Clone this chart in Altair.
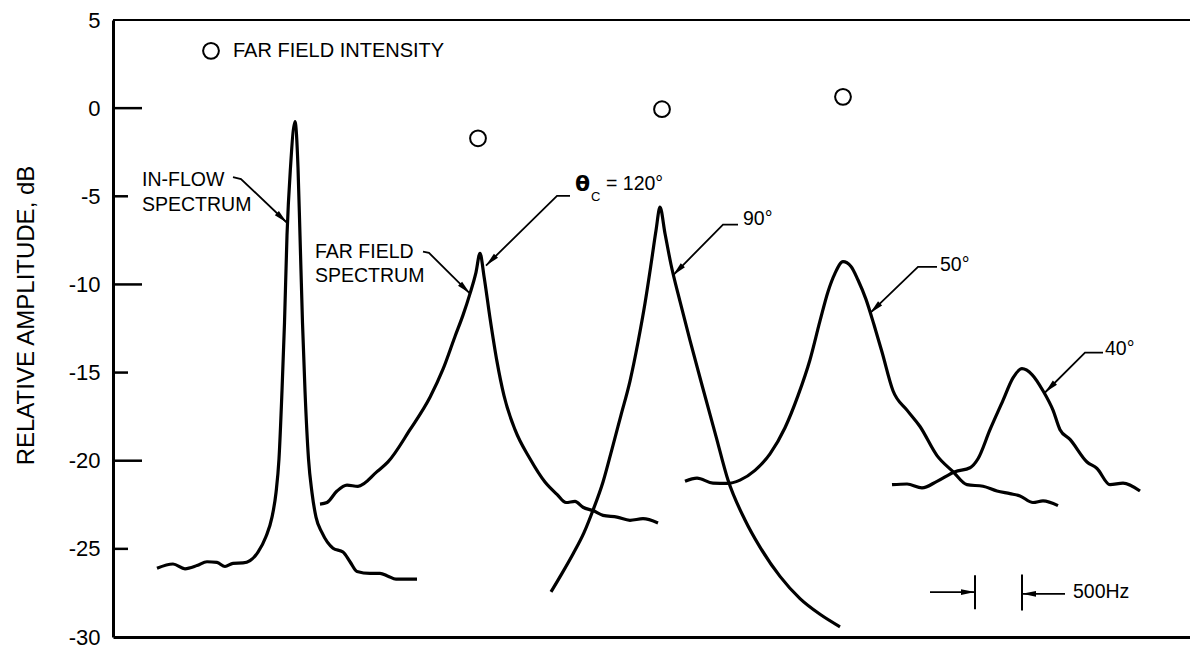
import math
import altair as alt
import pandas as pd

# ---------------- data ----------------
# x : relative frequency (arbitrary units, 500 Hz ~ 47 units), y : relative amplitude in dB
INFLOW_X = [157, 173, 185, 197, 207, 217, 225, 233, 243, 250, 258, 266, 272, 276, 279, 282,
            284.5, 287, 290.5, 295, 298, 300, 302.5, 305, 308.5, 312, 316, 322, 333, 343, 350,
            357, 370, 380, 388, 396, 417]
INFLOW_DB = [-26.10, -25.86, -26.13, -25.95, -25.73, -25.77, -26.00, -25.82, -25.80, -25.67,
             -25.18, -24.30, -23.20, -21.82, -19.89, -16.03, -12.18, -7.22, -3.36, -0.77,
             -3.36, -7.22, -12.18, -16.03, -19.89, -21.82, -23.20, -24.08, -24.96, -25.18,
             -25.73, -26.28, -26.39, -26.39, -26.55, -26.72, -26.72]

FF120_X = [320, 327, 337, 347, 358, 377, 388, 410, 430, 443, 455, 463, 470, 476, 480,
           484, 490, 497, 504, 515, 530, 545, 557, 566, 575, 583, 593, 603, 617, 630, 643, 658]
FF120_DB = [-22.46, -22.37, -21.72, -21.39, -21.45, -20.62, -20.07, -18.24, -16.40, -14.81,
            -12.95, -11.74, -10.52, -9.31, -8.23, -9.53, -11.90, -14.38, -16.31, -18.24,
            -19.89, -21.21, -21.91, -22.37, -22.31, -22.64, -22.83, -23.10, -23.20, -23.38,
            -23.29, -23.53]

FF90_X = [551, 562, 573, 584, 593, 603, 612, 621, 630, 638, 645, 651, 656, 660,
          665, 671, 680, 690, 703, 716, 728, 745, 760, 780, 800, 820, 840]
FF90_DB = [-27.44, -26.39, -25.29, -24.08, -22.81, -21.21, -19.34, -17.41, -15.48, -13.28,
           -11.07, -8.87, -6.94, -5.62, -7.11, -8.87, -10.96, -13.17, -15.92, -18.62, -21.10,
           -23.36, -24.90, -26.56, -27.82, -28.71, -29.42]

FF50_X = [685, 697, 713, 727, 740, 755, 770, 785, 798, 810, 820, 828, 835, 843, 851, 858,
          866, 874, 882, 893, 907, 920, 937, 953, 967, 983, 997, 1010, 1020, 1033, 1043, 1058]
FF50_DB = [-21.17, -20.99, -21.27, -21.29, -21.10, -20.55, -19.61, -18.13, -16.31, -14.27,
           -12.07, -10.41, -9.37, -8.71, -8.98, -9.75, -10.85, -12.29, -13.83, -16.03,
           -17.13, -18.06, -19.71, -20.62, -21.36, -21.45, -21.72, -21.87, -22.00, -22.37,
           -22.28, -22.55]

FF40_X = [892, 907, 922, 937, 955, 970, 978, 990, 1003, 1013, 1022, 1032, 1043, 1053, 1060,
          1070, 1087, 1097, 1110, 1123, 1140]
FF40_DB = [-21.36, -21.32, -21.54, -21.17, -20.62, -20.40, -19.89, -18.24, -16.58, -15.30,
           -14.78, -15.11, -16.03, -17.13, -18.24, -18.79, -20.07, -20.44, -21.36, -21.27,
           -21.72]

# far field intensity (circles)
INTENSITY_X = [478, 662, 843]
INTENSITY_DB = [-1.71, -0.06, 0.64]

# legend
LEGEND_X = [211]
LEGEND_DB = [3.25]
LEGEND_TEXT = ["FAR FIELD INTENSITY"]
LEGEND_TEXT_X = [233]

# annotation texts
LABEL_TEXT = ["IN-FLOW", "SPECTRUM", "FAR FIELD", "SPECTRUM", "= 120°", "90°", "50°", "40°", "500Hz"]
LABEL_X = [142, 142, 315, 315, 606, 743, 940, 1105, 1073]
LABEL_DB = [-4.08, -5.51, -8.15, -9.53, -4.30, -6.28, -8.87, -13.66, -27.44]
THETA_TEXT, THETA_X, THETA_DB = ["θ"], [575], [-4.30]
SUB_TEXT, SUB_X, SUB_DB = ["C"], [591], [-4.70]

# leader lines (last point = arrow tip)
LEADERS = {
    "inflow": ([233, 241, 287], [-3.91, -4.02, -6.50]),
    "farfield": ([423, 429, 470], [-8.14, -8.21, -10.52]),
    "theta120": ([570, 557, 486], [-4.98, -4.98, -8.93]),
    "a90": ([738, 723, 673], [-6.61, -6.61, -9.48]),
    "a50": ([937, 918, 870], [-9.00, -9.00, -11.63]),
    "a40": ([1103, 1085, 1045], [-13.87, -13.87, -16.13]),
    "hz_left": ([930, 975], [-27.45, -27.45]),
    "hz_right": ([1065, 1022], [-27.55, -27.55]),
}
# 500 Hz bracket bars
BAR_X = [975, 1022]
BAR_DB_TOP = [-26.50, -26.45]
BAR_DB_BOTTOM = [-28.43, -28.49]

Y_TICKS = [5, 0, -5, -10, -15, -20, -25, -30]
MAJOR_TICKS = [0, -10, -20]
MINOR_TICKS = [-5, -15, -25]
TOP_FRAME = [5]

# ---------------- layout ----------------
W, H = 1077, 617
X_DOMAIN = [113, 1190]
Y_DOMAIN = [-30, 5]
PX_X = W / (X_DOMAIN[1] - X_DOMAIN[0])
PX_Y = H / (Y_DOMAIN[1] - Y_DOMAIN[0])
FONT = "Liberation Sans"

xscale = alt.Scale(domain=X_DOMAIN, nice=False, zero=False)
yscale = alt.Scale(domain=Y_DOMAIN, nice=False, zero=False)
X = alt.X("f:Q", scale=xscale,
          axis=alt.Axis(labels=False, ticks=False, title=None, grid=False,
                        domainWidth=3, domainColor="black"))
Y = alt.Y("db:Q", scale=yscale,
          axis=alt.Axis(values=Y_TICKS, ticks=False, tickSize=0, grid=False,
                        domainWidth=3, domainColor="black",
                        labelFont=FONT, labelFontSize=22, labelColor="black",
                        labelPadding=13, labelExpr="'' + datum.value",
                        title="RELATIVE AMPLITUDE, dB", titleFont=FONT,
                        titleFontSize=24, titleFontWeight="normal", titleColor="black",
                        titleAngle=270, titleAlign="center", titleBaseline="middle",
                        titleX=-87, titleY=295))

# ---------------- tables ----------------
series = {"inflow": (INFLOW_X, INFLOW_DB), "120": (FF120_X, FF120_DB),
          "90": (FF90_X, FF90_DB), "50": (FF50_X, FF50_DB), "40": (FF40_X, FF40_DB)}
rows = []
for name, (xs, ys) in series.items():
    for i, (x, y) in enumerate(zip(xs, ys)):
        rows.append({"series": name, "i": i, "f": x, "db": y})
curves_df = pd.DataFrame(rows)

lrows, arows = [], []
for name, (xs, ys) in LEADERS.items():
    for i, (x, y) in enumerate(zip(xs, ys)):
        lrows.append({"leader": name, "i": i, "f": x, "db": y})
    dx = (xs[-1] - xs[-2]) * PX_X
    dy = -(ys[-1] - ys[-2]) * PX_Y
    ang = math.degrees(math.atan2(dx, -dy)) % 360
    arows.append({"f": xs[-1], "db": ys[-1], "angle": ang})
leaders_df = pd.DataFrame(lrows)
arrows_df = pd.DataFrame(arows)

ARROW = "M0,0L0.5,2.4L-0.5,2.4Z"

# ---------------- layers ----------------
curves = alt.Chart(curves_df).mark_line(color="black", strokeWidth=3.2,
                                        interpolate="monotone").encode(
    x=X, y=Y, detail="series:N", order="i:Q")

leaders = alt.Chart(leaders_df).mark_line(color="black", strokeWidth=1.8).encode(
    x=X, y=Y, detail="leader:N", order="i:Q")

arrows = alt.Chart(arrows_df).mark_point(shape=ARROW, filled=True, color="black",
                                          opacity=1, size=136).encode(
    x=X, y=Y, angle=alt.Angle("angle:Q", scale=None))

bars = alt.Chart(pd.DataFrame({"f": BAR_X, "db": BAR_DB_TOP, "db2": BAR_DB_BOTTOM})).mark_rule(
    color="black", strokeWidth=2).encode(x=X, y=Y, y2="db2:Q")

circles = alt.Chart(pd.DataFrame({"f": INTENSITY_X + LEGEND_X,
                                  "db": INTENSITY_DB + LEGEND_DB})).mark_point(
    shape="circle", filled=False, color="black", opacity=1, size=250, strokeWidth=2).encode(
    x=X, y=Y)

legend_text = alt.Chart(pd.DataFrame({"f": LEGEND_TEXT_X, "db": LEGEND_DB,
                                      "t": LEGEND_TEXT})).mark_text(
    align="left", baseline="middle", font=FONT, fontSize=20, color="black").encode(
    x=X, y=Y, text="t:N")

labels = alt.Chart(pd.DataFrame({"f": LABEL_X, "db": LABEL_DB, "t": LABEL_TEXT})).mark_text(
    align="left", baseline="middle", font=FONT, fontSize=19.5, color="black").encode(
    x=X, y=Y, text="t:N")

theta = alt.Chart(pd.DataFrame({"f": THETA_X, "db": THETA_DB, "t": THETA_TEXT})).mark_text(
    align="left", baseline="middle", font="DejaVu Sans", fontSize=22, fontWeight="bold",
    color="black").encode(x=X, y=Y, text="t:N")

sub = alt.Chart(pd.DataFrame({"f": SUB_X, "db": SUB_DB, "t": SUB_TEXT})).mark_text(
    align="left", baseline="top", font=FONT, fontSize=13, color="black").encode(
    x=X, y=Y, text="t:N")

top_frame = alt.Chart(pd.DataFrame({"db": TOP_FRAME})).mark_rule(
    color="black", strokeWidth=2).encode(y=Y, x=alt.value(0), x2=alt.value(W))

major = alt.Chart(pd.DataFrame({"db": MAJOR_TICKS})).mark_rule(
    color="black", strokeWidth=2.5).encode(y=Y, x=alt.value(0), x2=alt.value(29))
minor = alt.Chart(pd.DataFrame({"db": MINOR_TICKS})).mark_rule(
    color="black", strokeWidth=2.5).encode(y=Y, x=alt.value(0), x2=alt.value(15))

chart = alt.layer(
    top_frame, major, minor, curves, leaders, arrows, bars, circles,
    legend_text, labels, theta, sub
).properties(
    width=W, height=H,
    autosize=alt.AutoSizeParams(type="none"),
    padding={"left": 105, "top": 12, "right": 0, "bottom": 12},
    background="white",
).configure_view(stroke=None)

chart.save("out.html", embed_options={"renderer": "svg", "actions": False})
